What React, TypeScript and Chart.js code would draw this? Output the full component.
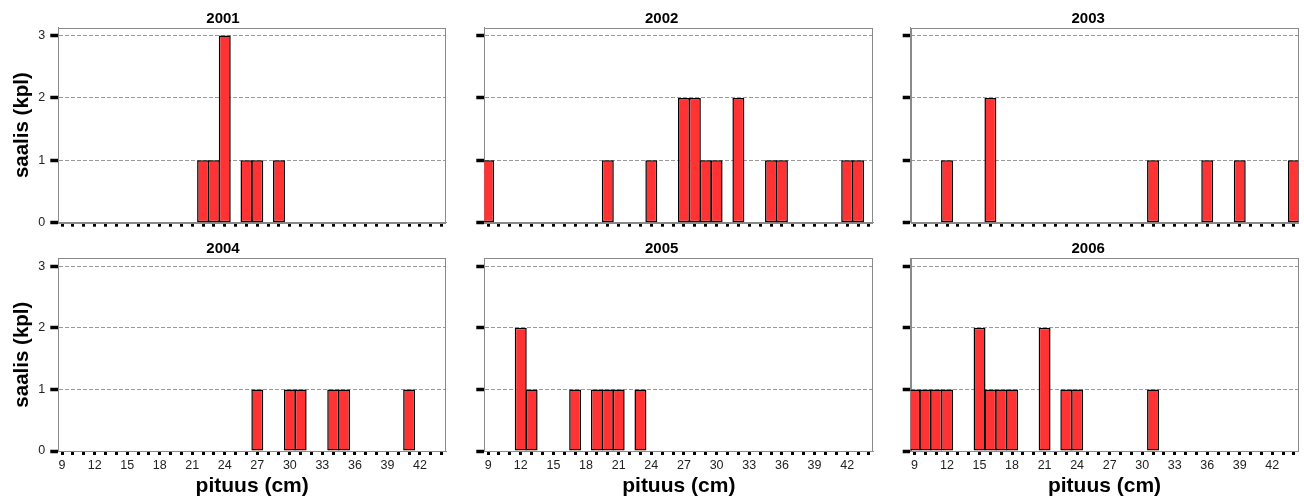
import React, { useEffect, useRef } from 'react';
import { Chart, registerables } from 'chart.js';

Chart.register(...registerables);

// ---------- data ----------
const lengths = [9, 10, 11, 12, 13, 14, 15, 16, 17, 18, 19, 20, 21, 22, 23, 24, 25, 26, 27, 28, 29, 30, 31, 32, 33, 34, 35, 36, 37, 38, 39, 40, 41, 42, 43, 44];
const years = ['2001', '2002', '2003', '2004', '2005', '2006'];
const catch2001 = [0, 0, 0, 0, 0, 0, 0, 0, 0, 0, 0, 0, 0, 1, 1, 3, 0, 1, 1, 0, 1, 0, 0, 0, 0, 0, 0, 0, 0, 0, 0, 0, 0, 0, 0, 0];
const catch2002 = [1, 0, 0, 0, 0, 0, 0, 0, 0, 0, 0, 1, 0, 0, 0, 1, 0, 0, 2, 2, 1, 1, 0, 2, 0, 0, 1, 1, 0, 0, 0, 0, 0, 1, 1, 0];
const catch2003 = [0, 0, 0, 1, 0, 0, 0, 2, 0, 0, 0, 0, 0, 0, 0, 0, 0, 0, 0, 0, 0, 0, 1, 0, 0, 0, 0, 1, 0, 0, 1, 0, 0, 0, 0, 1];
const catch2004 = [0, 0, 0, 0, 0, 0, 0, 0, 0, 0, 0, 0, 0, 0, 0, 0, 0, 0, 1, 0, 0, 1, 1, 0, 0, 1, 1, 0, 0, 0, 0, 0, 1, 0, 0, 0];
const catch2005 = [0, 0, 0, 2, 1, 0, 0, 0, 1, 0, 1, 1, 1, 0, 1, 0, 0, 0, 0, 0, 0, 0, 0, 0, 0, 0, 0, 0, 0, 0, 0, 0, 0, 0, 0, 0];
const catch2006 = [1, 1, 1, 1, 0, 0, 2, 1, 1, 1, 0, 0, 2, 0, 1, 1, 0, 0, 0, 0, 0, 0, 1, 0, 0, 0, 0, 0, 0, 0, 0, 0, 0, 0, 0, 0];
const xTickLabels = [9, 12, 15, 18, 21, 24, 27, 30, 33, 36, 39, 42];
const yTickValues = [0, 1, 2, 3];
const yTitle = 'saalis (kpl)';
const xTitle = 'pituus (cm)';

const seriesByYear = [catch2001, catch2002, catch2003, catch2004, catch2005, catch2006];

// ---------- layout ----------
const FONT = "'Liberation Sans', Arial, Helvetica, sans-serif";
const COLS = [
  { left: 0, width: 450, yWidth: 58.3, padRight: 4 },
  { left: 450, width: 428, yWidth: 34.3, padRight: 4.7 },
  { left: 878, width: 426, yWidth: 32.7, padRight: 5.7 },
];
const ROWS = [
  { top: 0, height: 240, titleTop: 9.5, xHeight: 17.3 },
  { top: 235, height: 264, titleTop: 5.3, xHeight: 48 },
];

const framePlugin = {
  id: 'frame',
  beforeDatasetsDraw(chart: any) {
    const { ctx, chartArea: a } = chart;
    ctx.save();
    ctx.strokeStyle = '#8a8a8a';
    ctx.lineWidth = 1;
    ctx.strokeRect(Math.round(a.left) + 0.5, Math.round(a.top) + 0.5, Math.round(a.right - a.left) - 1, Math.round(a.bottom - a.top));
    ctx.restore();
  },
};

function Panel({ title, values, col, row }: { title: string; values: number[]; col: number; row: number }) {
  const ref = useRef<HTMLCanvasElement>(null);
  const C = COLS[col];
  const R = ROWS[row];
  useEffect(() => {
    const showY = col === 0;
    const showX = row === 1;
    const chart = new Chart(ref.current as HTMLCanvasElement, {
      type: 'bar',
      data: {
        datasets: [
          {
            data: lengths.map((x, i) => ({ x, y: values[i] })),
            backgroundColor: '#ff3333',
            borderColor: '#000000',
            borderWidth: 1.5,
            borderSkipped: false,
            barPercentage: 1.1,
            categoryPercentage: 1,
          } as any,
        ],
      },
      options: {
        animation: false,
        responsive: false,
        devicePixelRatio: 1,
        layout: { padding: { left: 0, right: C.padRight, top: 0, bottom: 0 } },
        plugins: {
          legend: { display: false },
          tooltip: { enabled: false },
          title: {
            display: true,
            text: title,
            color: '#000',
            font: { family: FONT, size: 15, weight: 'bold' },
            padding: { top: R.titleTop, bottom: 0 },
          },
        },
        scales: {
          x: {
            type: 'linear',
            min: 8.65,
            max: 44.4,
            offset: false,
            afterFit: (s: any) => {
              s.height = R.xHeight;
            },
            grid: {
              offset: false,
              drawOnChartArea: false,
              drawTicks: true,
              tickLength: 4,
              tickWidth: 3,
              tickColor: '#000',
            },
            border: { display: true, color: '#8a8a8a', width: 1 },
            ticks: {
              display: showX,
              stepSize: 1,
              autoSkip: false,
              includeBounds: false,
              maxRotation: 0,
              padding: 3,
              color: '#222',
              font: { family: FONT, size: 12.5 },
              callback: (v: any) => (xTickLabels.includes(Number(v)) ? String(v) : ''),
            },
            title: {
              display: showX,
              text: xTitle,
              color: '#000',
              font: { family: FONT, size: 21, weight: 'bold' },
              padding: { top: 0, bottom: 0 },
            },
          },
          y: {
            min: 0,
            max: 3.13,
            afterFit: (s: any) => {
              s.width = C.yWidth;
            },
            grid: {
              drawOnChartArea: true,
              drawTicks: true,
              tickLength: 8,
              tickWidth: 3.5,
              tickColor: '#000',
              tickBorderDash: [],
              color: (ctx: any) => (ctx.tick && ctx.tick.value === 0 ? 'rgba(0,0,0,0)' : '#9a9a9a'),
              lineWidth: 1,
            },
            border: { display: true, color: '#8a8a8a', width: 1, dash: [4, 2] },
            ticks: {
              display: showY,
              stepSize: 1,
              includeBounds: false,
              padding: 5,
              color: '#222',
              font: { family: FONT, size: 12.5 },
              callback: (v: any) => (yTickValues.includes(Number(v)) ? String(v) : ''),
            },
            title: {
              display: showY,
              text: yTitle,
              color: '#000',
              font: { family: FONT, size: 20.5, weight: 'bold' },
              padding: { top: 9.7, bottom: 0 },
            },
          },
        },
      } as any,
      plugins: [framePlugin],
    });
    return () => chart.destroy();
  }, []);
  return (
    <canvas
      ref={ref}
      width={C.width}
      height={R.height}
      style={{ position: 'absolute', left: C.left, top: R.top, width: C.width, height: R.height }}
    />
  );
}

export default function App() {
  return (
    <div style={{ position: 'absolute', left: 0, top: 0, width: 1304, height: 499, background: '#fff', overflow: 'hidden' }}>
      {years.map((y, i) => (
        <Panel key={y} title={y} values={seriesByYear[i]} col={i % 3} row={Math.floor(i / 3)} />
      ))}
    </div>
  );
}
